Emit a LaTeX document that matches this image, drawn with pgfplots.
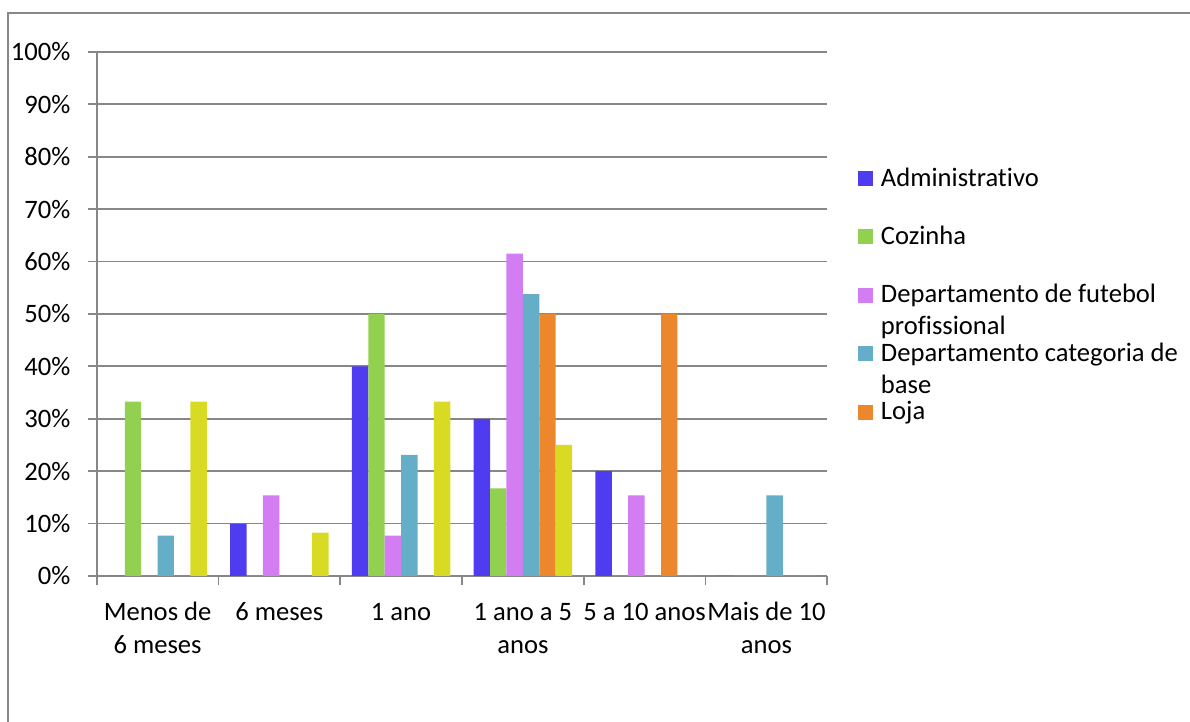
\documentclass[border=0pt]{standalone}
\usepackage{fontspec}
\setmainfont{Carlito}[Ligatures={NoCommon}]
\usepackage{pgfplots}
\pgfplotsset{compat=1.18}

\definecolor{cAdm}{HTML}{503CF0}
\definecolor{cCoz}{HTML}{92D050}
\definecolor{cFut}{HTML}{D27DF1}
\definecolor{cBase}{HTML}{64AEC8}
\definecolor{cLoja}{HTML}{ED872E}
\definecolor{cOut}{HTML}{D9DA24}
\definecolor{lineGray}{HTML}{878787}

\begin{document}
\begin{tikzpicture}
\useasboundingbox (0,0) rectangle (595pt,361pt);
% chart frame (left and top edges)
\draw[lineGray, line width=0.9pt] (4pt,0pt) -- (4pt,354.5pt) -- (595pt,354.5pt);
\begin{axis}[
  at={(48.35pt,73pt)}, anchor=south west,
  scale only axis, width=365.3pt, height=262pt,
  font=\fontsize{13.3pt}{16.5pt}\selectfont,
  xmin=-0.5, xmax=5.5, ymin=0, ymax=100,
  axis lines=left,
  axis line style={lineGray, line width=0.9pt, -},
  ybar=0pt, bar width=8.2pt,
  ytick={0,10,...,100},
  yticklabels={0\%,10\%,20\%,30\%,40\%,50\%,60\%,70\%,80\%,90\%,100\%},
  ymajorgrids,
  grid style={lineGray, line width=0.9pt},
  xtick={-0.5,0.5,...,5.5}, xticklabels={},
  extra x ticks={0,1,2,3,4,5},
  extra x tick labels={{\strut Menos de\\6 meses},{\strut 6 meses},{\strut 1 ano},{\strut 1 ano a 5\\anos},{\strut 5 a 10 anos},{\strut Mais de 10\\anos}},
  extra x tick style={major tick length=0pt, grid=none},
  tick align=outside, major tick length=4.5pt,
  tick style={lineGray, line width=0.9pt},
  xticklabel style={align=center, anchor=north, inner sep=0pt, yshift=-10.5pt},
  yticklabel style={anchor=east, inner sep=0pt, xshift=-8.5pt},
  legend image code/.code={\fill[#1] (0pt,0pt) rectangle (7.5pt,7.5pt);},
  legend style={
    at={(1.042,0.7805)}, anchor=north west,
    draw=none, fill=none, inner sep=0pt, outer sep=0pt,
    row sep=0pt, column sep=4pt,
    cells={anchor=base west},
    nodes={inner sep=0pt, text height=9.5pt, text depth=19.7pt,
           font=\fontsize{13.3pt}{16.5pt}\selectfont},
  },
]
\addplot[fill=cAdm, draw=none] coordinates {(0,0) (1,10) (2,40) (3,30) (4,20) (5,0)};
\addlegendentry{Administrativo}
\addplot[fill=cCoz, draw=none] coordinates {(0,33.3) (1,0) (2,50) (3,16.7) (4,0) (5,0)};
\addlegendentry{Cozinha}
\addplot[fill=cFut, draw=none] coordinates {(0,0) (1,15.4) (2,7.7) (3,61.5) (4,15.4) (5,0)};
\addlegendentry{\smash{\rlap{\raisebox{-16pt}{profissional}}}Departamento de futebol}
\addplot[fill=cBase, draw=none] coordinates {(0,7.7) (1,0) (2,23.1) (3,53.8) (4,0) (5,15.4)};
\addlegendentry{\smash{\rlap{\raisebox{-16pt}{base}}}Departamento categoria de}
\addplot[fill=cLoja, draw=none] coordinates {(0,0) (1,0) (2,0) (3,50) (4,50) (5,0)};
\addlegendentry{Loja}
\addplot[fill=cOut, draw=none] coordinates {(0,33.3) (1,8.3) (2,33.3) (3,25) (4,0) (5,0)};
\end{axis}
\end{tikzpicture}
\end{document}
